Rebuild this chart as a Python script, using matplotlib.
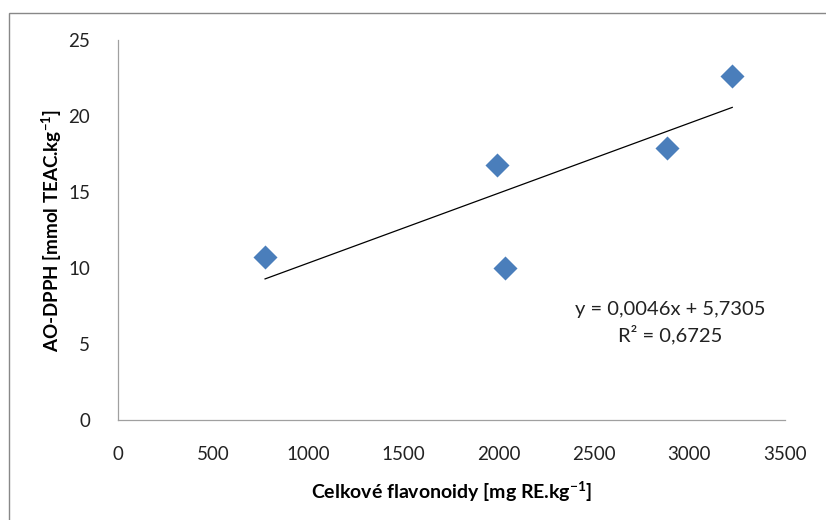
import numpy as np
import matplotlib
matplotlib.use("Agg")
import matplotlib.pyplot as plt
from matplotlib.patches import Rectangle

# total flavonoids vs. antioxidant activity
flavonoids = [772, 1990, 2030, 2880, 3225]
ao_dpph = [10.7, 16.8, 10.0, 17.9, 22.6]

slope = 0.0046
intercept = 5.7305
r_squared = 0.6725

x_ticks = [0, 500, 1000, 1500, 2000, 2500, 3000, 3500]
y_ticks = [0, 5, 10, 15, 20, 25]

font = ["Lato", "DejaVu Sans"]

fig = plt.figure(figsize=(8.26, 5.2), dpi=100)
fig.patch.set_facecolor("white")

# chart area frame
fig.patches.append(Rectangle((0.0115, -0.1), 1.2, 1.075, transform=fig.transFigure,
                             fill=False, edgecolor="#888888", lw=1.0))

ax = fig.add_axes([0.1429, 0.1923, 0.807, 0.7308])

ax.scatter(flavonoids, ao_dpph, marker="D", s=150, color="#4A7EBB", zorder=3,
           linewidths=0)

xs = np.array([min(flavonoids), max(flavonoids)])
ax.plot(xs, slope * xs + intercept, color="black", lw=0.9, zorder=2)

ax.set_xlim(0, 3500)
ax.set_ylim(0, 25)
ax.set_xticks(x_ticks)
ax.set_yticks(y_ticks)
ax.tick_params(length=0, pad=20, labelsize=13.5, colors="#222222")
ax.tick_params(axis="x", pad=19)
for lab in ax.get_xticklabels() + ax.get_yticklabels():
    lab.set_family(font)

for side in ["top", "right"]:
    ax.spines[side].set_visible(False)
for side in ["left", "bottom"]:
    ax.spines[side].set_color("#A0A0A0")
    ax.spines[side].set_linewidth(0.9)

ax.set_xlabel("Celkové flavonoidy [mg RE.kg$^{\\mathregular{-1}}$]", family=font,
              fontsize=14, fontweight="bold", labelpad=11)
ax.set_ylabel("AO-DPPH [mmol TEAC.kg$^{\\mathregular{-1}}$]", family=font,
              fontsize=13.5, fontweight="bold", labelpad=3)

eq = f"y = {slope:.4f}x + {intercept:.4f}".replace(".", ",")
r2 = f"R² = {r_squared:.4f}".replace(".", ",")
ax.text(2900, 7.3, eq, ha="center", va="center", fontsize=14.5, family=font,
        color="#222222")
ax.text(2900, 5.65, r2, ha="center", va="center", fontsize=14.5, family=font,
        color="#222222")

fig.savefig("out.png", dpi=100, facecolor="white")
